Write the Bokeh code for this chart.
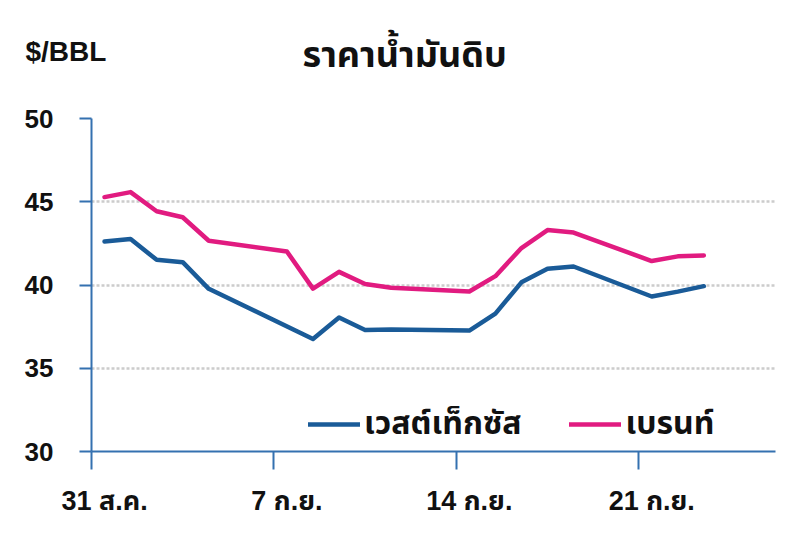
from bokeh.plotting import figure
from bokeh.layouts import column
from bokeh.models import FixedTicker, LinearAxis, Label, Legend, LegendItem, Range1d
from bokeh.embed import file_html
from bokeh.resources import INLINE

# Days after 31 Aug (trading days only), prices in $/BBL
wti_day = [0, 1, 2, 3, 4, 8, 9, 10, 11, 14, 15, 16, 17, 18, 21, 22, 23]
wti_price = [42.61, 42.76, 41.51, 41.37, 39.77, 36.76, 38.05, 37.30, 37.33,
             37.26, 38.28, 40.16, 40.97, 41.11, 39.31, 39.60, 39.93]
brent_day = [0, 1, 2, 3, 4, 7, 8, 9, 10, 11, 14, 15, 16, 17, 18, 21, 22, 23]
brent_price = [45.28, 45.58, 44.43, 44.07, 42.66, 42.01, 39.78, 40.79, 40.06,
               39.83, 39.61, 40.53, 42.22, 43.30, 43.15, 41.44, 41.72, 41.77]

tick_days = [0, 7, 14, 21]
tick_labels = ["31 ส.ค.", "7 ก.ย.", "14 ก.ย.", "21 ก.ย."]
y_ticks = [30, 35, 40, 45, 50]

title_text = "ราคาน้ำมันดิบ"
unit_text = "$/BBL"
wti_name = "เวสต์เท็กซัส"
brent_name = "เบรนท์"

AXIS_BLUE = "#3471b0"
WTI_COLOR = "#1a5b98"
BRENT_COLOR = "#e11b80"
NUM_FONT = "Liberation Sans, Arial, sans-serif"
THAI_FONT = "Liberation Sans, Noto Sans Thai, sans-serif"

W = 792
HEAD_H = 90
H = 437

# ---------- header strip (unit label + chart title) ----------
head = figure(width=W, height=HEAD_H, output_backend="svg", toolbar_location=None,
              x_range=Range1d(0, W), y_range=Range1d(HEAD_H, 0),
              x_axis_type=None, y_axis_type=None, outline_line_color=None,
              min_border=0, min_border_left=0, min_border_right=0,
              min_border_top=0, min_border_bottom=0)
head.grid.visible = False
head.add_layout(Label(x=25, y=51, text=unit_text, text_align="left",
                      text_baseline="alphabetic", text_font=NUM_FONT,
                      text_font_style="bold", text_font_size="28px",
                      text_color="#111111"))
head.add_layout(Label(x=302, y=54, text=title_text, text_align="left",
                      text_baseline="alphabetic", text_font=THAI_FONT,
                      text_font_style="bold", text_font_size="36px",
                      text_color="#111111"))

# ---------- main chart ----------
p = figure(width=W, height=H, output_backend="svg", toolbar_location=None,
           x_range=Range1d(0, 26.25), y_range=Range1d(30, 50),
           min_border_left=91, min_border_right=17, min_border_top=118 - HEAD_H,
           min_border_bottom=76, outline_line_color=None)

for fig in (head, p):
    try:
        fig.frame_align = False
    except Exception:
        pass

# centres of the day slots
wti_x = [d + 0.5 for d in wti_day]
brent_x = [d + 0.5 for d in brent_day]

r_wti = p.line(wti_x, wti_price, line_color=WTI_COLOR, line_width=4.5,
               line_join="round", line_cap="round")
r_brent = p.line(brent_x, brent_price, line_color=BRENT_COLOR, line_width=4.5,
                 line_join="round", line_cap="round")

# y axis
ya = p.yaxis[0]
ya.ticker = FixedTicker(ticks=y_ticks)
ya.axis_line_color = AXIS_BLUE
ya.axis_line_width = 2
ya.major_tick_line_color = AXIS_BLUE
ya.major_tick_line_width = 2
ya.major_tick_out = 12
ya.major_tick_in = 0
ya.minor_tick_line_color = None
ya.major_label_standoff = 26
ya.major_label_text_font = NUM_FONT
ya.major_label_text_font_style = "bold"
ya.major_label_text_font_size = "26px"
ya.major_label_text_color = "#111111"

# x axis (tick marks only)
xa = p.xaxis[0]
xa.ticker = FixedTicker(ticks=tick_days)
xa.major_label_overrides = {d: "" for d in tick_days}
xa.axis_line_color = AXIS_BLUE
xa.axis_line_width = 2
xa.major_tick_line_color = AXIS_BLUE
xa.major_tick_line_width = 2
xa.major_tick_out = 18
xa.major_tick_in = 0
xa.minor_tick_line_color = None
xa.major_label_standoff = 0
xa.major_label_text_font_size = "1px"

# x axis labels (centred in the day slot)
lab_pos = [d + 0.5 for d in tick_days]
xl = LinearAxis(ticker=FixedTicker(ticks=lab_pos),
                major_label_overrides={x: t for x, t in zip(lab_pos, tick_labels)},
                axis_line_color=None, major_tick_line_color=None,
                minor_tick_line_color=None, major_label_standoff=10,
                major_label_text_font=THAI_FONT,
                major_label_text_font_style="bold",
                major_label_text_font_size="27px",
                major_label_text_color="#111111")
p.add_layout(xl, "below")

p.xgrid.visible = False
p.ygrid.ticker = FixedTicker(ticks=y_ticks)
p.ygrid.grid_line_color = "#cccccc"
p.ygrid.grid_line_width = 2.5
p.ygrid.grid_line_dash = "3 2"

legend = Legend(items=[LegendItem(label=wti_name, renderers=[r_wti]),
                       LegendItem(label=brent_name, renderers=[r_brent])],
                orientation="horizontal", location=(217, 3),
                border_line_color=None, background_fill_alpha=0,
                label_text_font=THAI_FONT, label_text_font_style="bold",
                label_text_font_size="32px", label_text_color="#111111",
                glyph_width=52, glyph_height=34, spacing=48, padding=0,
                margin=0, label_standoff=4)
p.add_layout(legend, "center")

page = column(head, p, spacing=0)
open("out.html", "w").write(file_html(page, INLINE))
